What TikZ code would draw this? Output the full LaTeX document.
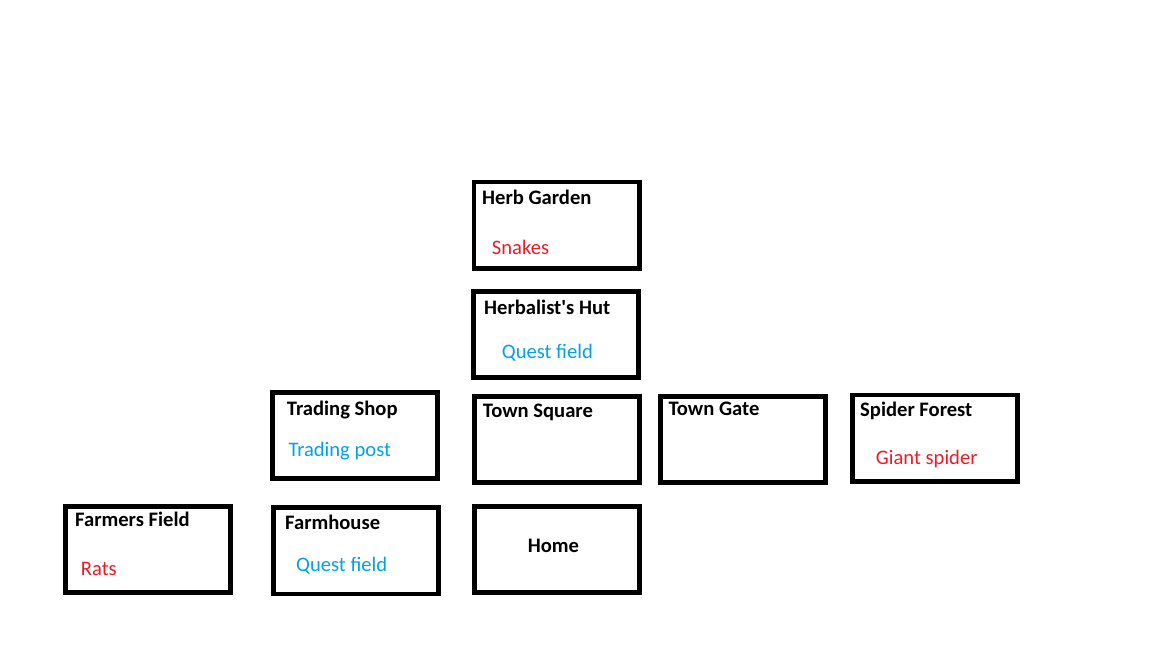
\documentclass[tikz,border=0pt]{standalone}
\usepackage{fontspec}
\setmainfont{Carlito}[Ligatures=TeXOff]
\definecolor{pred}{HTML}{ED1C24}
\definecolor{pblue}{HTML}{00A2E8}
\begin{document}
\begin{tikzpicture}[x=1pt,y=-1pt,
  box/.style={draw=black,line width=4.7pt,minimum width=165.3pt,minimum height=86.3pt,inner sep=0pt,outer sep=0pt},
  title/.style={anchor=base west,inner sep=0pt,font=\fontsize{20.6}{24}\selectfont\bfseries},
  enemy/.style={anchor=base west,inner sep=0pt,text=pred,font=\fontsize{20.6}{24}\selectfont},
  quest/.style={anchor=base west,inner sep=0pt,text=pblue,font=\fontsize{20.6}{24}\selectfont}]
\useasboundingbox[fill=white] (0,0) rectangle (1152,648);
% boxes
\node[box] (hg) at (556.75,225.25) {};
\node[box] (hh) at (555.85,334.5) {};
\node[box] (tshop) at (355,435.35) {};
\node[box] (ffield) at (148,549.65) {};
\node[box] (fhouse) at (355.85,550.85) {};
\node[box] (tsq) at (557,439.5) {};
\node[box] (tgate) at (743,439.5) {};
\node[box] (sforest) at (935,438.15) {};
\node[box] (home) at (557,549.5) {};
% texts
\node[title] (hgT) at (482,204.3) {Herb Garden};
\node[enemy] (hgE) at (491.7,254) {Snakes};
\node[title] (hhT) at (484,314.3) {Herbalist's Hut};
\node[quest] (hhQ) at (501.7,358.3) {Quest field};
\node[title] (tshopT) at (286.7,415) {Trading Shop};
\node[quest] (tshopQ) at (288.3,456) {Trading post};
\node[title] (ffieldT) at (75,526.7) {Farmers Field};
\node[enemy] (ffieldE) at (80.7,575) {Rats};
\node[title] (fhouseT) at (285,529.3) {Farmhouse};
\node[quest] (fhouseQ) at (296,571.7) {Quest field};
\node[title] (tsqT) at (482.7,417.7) {Town Square};
\node[title] (tgateT) at (668.3,415.7) {Town Gate};
\node[title] (homeT) at (527.7,552.3) {Home};
\node[title] (sforestT) at (860,416) {Spider Forest};
\node[enemy] (sforestE) at (875.7,464) {Giant spider};
\end{tikzpicture}
\end{document}
